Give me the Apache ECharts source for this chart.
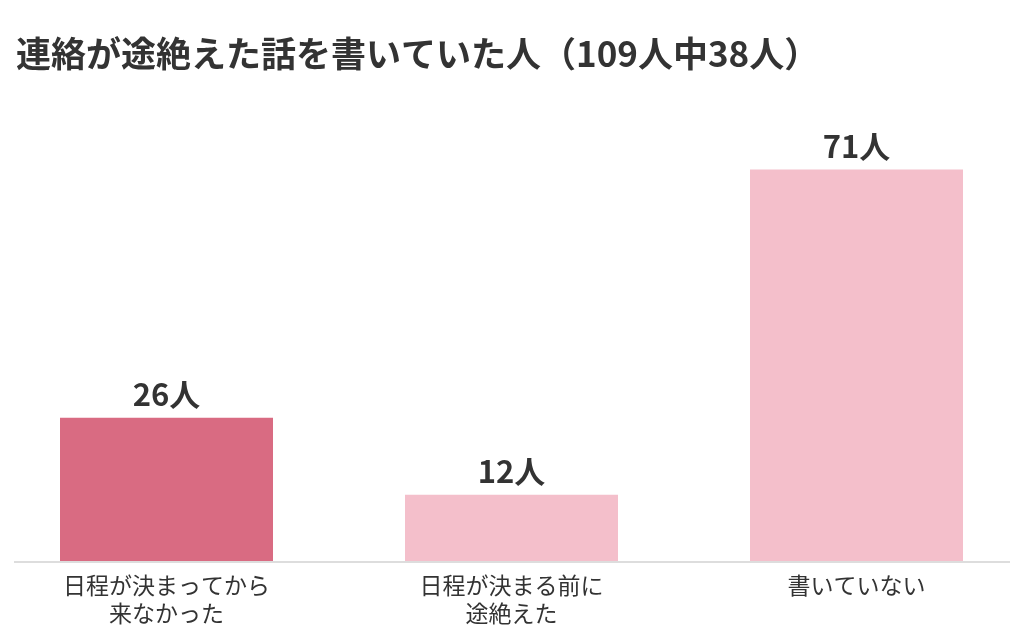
<!DOCTYPE html>
<html>
<head>
<meta charset="utf-8">
<script src="https://cdn.jsdelivr.net/npm/echarts@6/dist/echarts.min.js"></script>
<style>
  html, body { margin: 0; padding: 0; background: #fff; }
  #chart { width: 1024px; height: 640px; }
</style>
</head>
<body>
<div id="chart"></div>
<script>
var categories = ['日程が決まってから\n来なかった', '日程が決まる前に\n途絶えた', '書いていない'];
var counts = [26, 12, 71];
var barColors = ['#d96b82', '#f4bfcb', '#f4bfcb'];

var font = '"Noto Sans CJK JP", "Noto Sans", sans-serif';

var chart = echarts.init(document.getElementById('chart'));

var option = {
    backgroundColor: '#fff',
    animation: false,
    title: {
        text: '連絡が途絶えた話を書いていた人（109人中38人）',
        left: 11,
        top: 31,
        textStyle: {
            fontFamily: font,
            fontSize: 35,
            fontWeight: 'bold',
            color: '#333'
        }
    },
    grid: {
        left: -6,
        right: -5,
        top: 120,
        bottom: 79,
        outerBoundsMode: 'none',
        containLabel: false
    },
    xAxis: {
        type: 'category',
        data: categories,
        axisLine: { show: false },
        axisTick: { show: false },
        axisLabel: {
            interval: 0,
            margin: 10,
            fontFamily: font,
            fontSize: 23,
            lineHeight: 28,
            color: '#333'
        }
    },
    yAxis: {
        type: 'value',
        min: 0,
        max: 80,
        show: false
    },
    series: [{
        type: 'bar',
        barWidth: 213,
        data: counts.map(function (v, i) {
            return { value: v, itemStyle: { color: barColors[i] } };
        }),
        label: {
            show: true,
            position: 'top',
            distance: 8,
            formatter: '{c}人',
            fontFamily: font,
            fontSize: 31,
            fontWeight: 'bold',
            color: '#333'
        }
    }],
    graphic: [{
        type: 'line',
        shape: { x1: 14, y1: 562, x2: 1010, y2: 562 },
        style: { stroke: '#dddddd', lineWidth: 2 },
        z: 10
    }]
};

chart.setOption(option);
</script>
</body>
</html>
